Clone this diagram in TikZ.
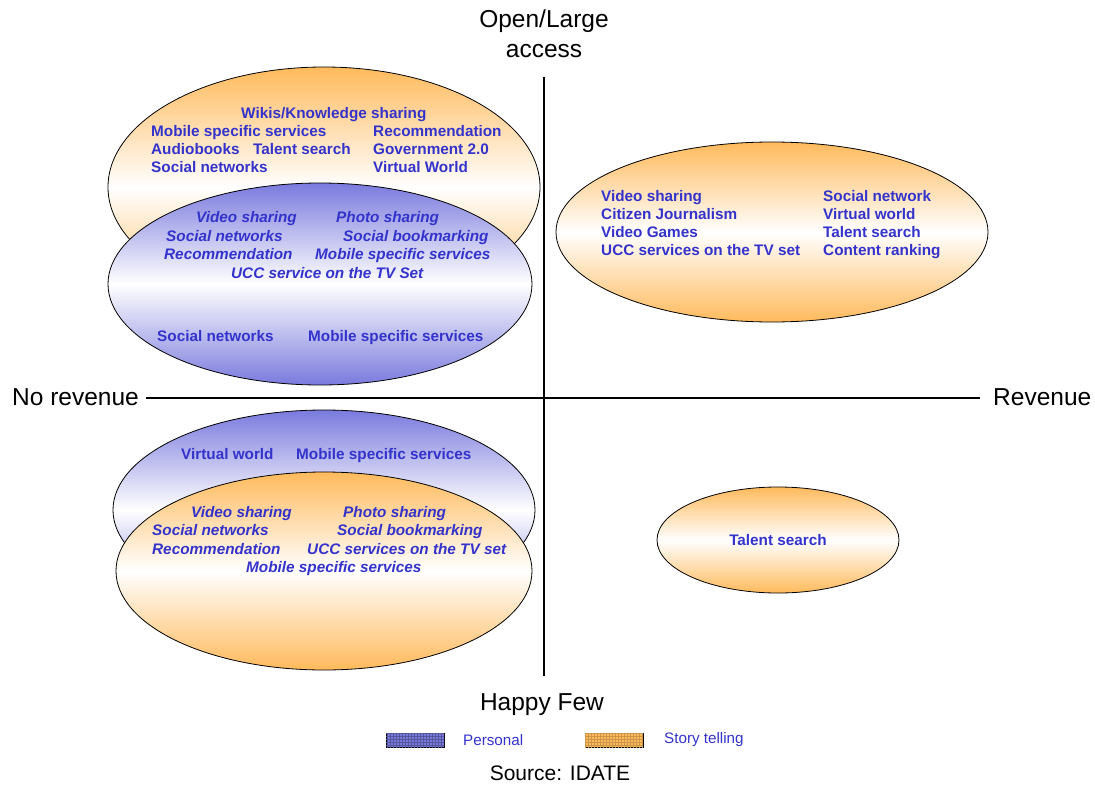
\documentclass[tikz,border=0pt]{standalone}
\usepackage{fontspec}
\setmainfont{Liberation Sans}
\usetikzlibrary{shapes.geometric,patterns}
\definecolor{txtblue}{RGB}{51,51,204}
\definecolor{orng}{RGB}{255,186,92}
\definecolor{lblue}{RGB}{122,122,222}
\begin{document}
\begin{tikzpicture}[x=1pt,y=-1pt,
  oval/.style={ellipse, draw=black, line width=0.8pt, inner sep=0pt},
  orangeoval/.style={oval, top color=orng, bottom color=orng, middle color=white},
  blueoval/.style={oval, top color=lblue, bottom color=lblue, middle color=white},
  lbl/.style={anchor=west, inner sep=0pt, text height=12pt, text depth=2pt, text=txtblue, font=\fontsize{15.3}{18}\selectfont\bfseries},
  ilbl/.style={lbl, font=\fontsize{15.3}{18}\selectfont\bfseries\itshape},
  axlbl/.style={inner sep=0pt, text height=18pt, text depth=5pt, font=\fontsize{24.5}{29}\selectfont},
  leglbl/.style={inner sep=0pt, anchor=west, text height=12pt, text depth=2pt, text=txtblue, font=\fontsize{15.2}{18}\selectfont},
  axis/.style={line width=1.6pt}]
\useasboundingbox (0,0) rectangle (1095,787);

% ellipses
\node[orangeoval, minimum width=432pt, minimum height=240pt] (tlo) at (324,187) {};
\node[blueoval, minimum width=424pt, minimum height=202pt] (tlb) at (320,284) {};
\node[orangeoval, minimum width=432pt, minimum height=180pt] (tro) at (772,232) {};
\node[blueoval, minimum width=422pt, minimum height=200pt] (blb) at (324,510) {};
\node[orangeoval, minimum width=416pt, minimum height=198pt] (blo) at (324,571) {};
\node[orangeoval, minimum width=242pt, minimum height=106pt] (bro) at (778,540) {};

% axes
\coordinate (vt) at (544,77);
\coordinate (vb) at (544,676);
\coordinate (hl) at (146,398);
\coordinate (hr) at (980,398);
\draw[axis] (vt) -- (vb);
\draw[axis] (hl) -- (hr);

\node[axlbl] (open) at (544,21) {Open/Large};
\node[axlbl] (access) at (544,51) {access};
\node[axlbl, anchor=west] (norev) at (12,399) {No revenue};
\node[axlbl, anchor=west] (rev) at (993,399) {Revenue};
\node[axlbl] (happy) at (542,704) {Happy Few};

% top-left orange
\node[lbl] (t1) at (241,113) {Wikis/Knowledge sharing};
\node[lbl] (t2) at (151,131) {Mobile specific services};
\node[lbl] (t3) at (373,131) {Recommendation};
\node[lbl] (t4) at (151,149) {Audiobooks};
\node[lbl] (t5) at (253,149) {Talent search};
\node[lbl] (t6) at (373,149) {Government 2.0};
\node[lbl] (t7) at (151,167) {Social networks};
\node[lbl] (t8) at (373,167) {Virtual World};

% top-left blue
\node[ilbl] (b1) at (196,217) {Video sharing};
\node[ilbl] (b2) at (336,217) {Photo sharing};
\node[ilbl] (b3) at (166,236) {Social networks};
\node[ilbl] (b4) at (343,236) {Social bookmarking};
\node[ilbl] (b5) at (164,254) {Recommendation};
\node[ilbl] (b6) at (315,254) {Mobile specific services};
\node[ilbl] (b7) at (231,273) {UCC service on the TV Set};
\node[lbl] (b8) at (157,336) {Social networks};
\node[lbl] (b9) at (308,336) {Mobile specific services};

% right orange
\node[lbl] (r1) at (601,196) {Video sharing};
\node[lbl] (r2) at (601,214) {Citizen Journalism};
\node[lbl] (r3) at (601,232) {Video Games};
\node[lbl] (r4) at (601,250) {UCC services on the TV set};
\node[lbl] (r5) at (823,196) {Social network};
\node[lbl] (r6) at (823,214) {Virtual world};
\node[lbl] (r7) at (823,232) {Talent search};
\node[lbl] (r8) at (823,250) {Content ranking};

% bottom blue
\node[lbl] (u1) at (181,454) {Virtual world};
\node[lbl] (u2) at (296,454) {Mobile specific services};

% bottom orange
\node[ilbl] (o1) at (191,512) {Video sharing};
\node[ilbl] (o2) at (343,512) {Photo sharing};
\node[ilbl] (o3) at (152,530) {Social networks};
\node[ilbl] (o4) at (337,530) {Social bookmarking};
\node[ilbl] (o5) at (152,549) {Recommendation};
\node[ilbl] (o6) at (307,549) {UCC services on the TV set};
\node[ilbl] (o7) at (246,567) {Mobile specific services};

% bottom right
\node[lbl, anchor=center] (s1) at (778,540) {Talent search};

% legend
\node[draw=black, line width=0.8pt, fill=lblue, minimum width=58pt, minimum height=14pt, inner sep=0pt,
      postaction={pattern=grid, pattern color=lblue!70!black}] (lgb) at (415,740) {};
\node[leglbl] (lgbt) at (463,740) {Personal};
\node[draw=black, line width=0.8pt, fill=orng, minimum width=58pt, minimum height=14pt, inner sep=0pt,
      postaction={pattern=grid, pattern color=orng!80!black}] (lgo) at (614,740) {};
\node[leglbl] (lgot) at (664,738) {Story telling};

\node[inner sep=0pt, text height=15pt, text depth=4pt, font=\fontsize{21}{25}\selectfont] (src) at (560,775) {Source: IDATE};
\end{tikzpicture}
\end{document}
